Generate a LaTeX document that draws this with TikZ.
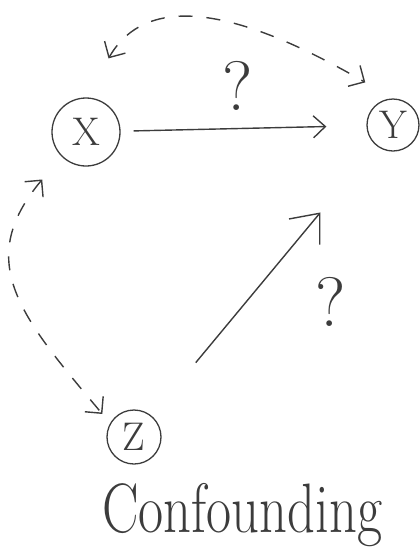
\documentclass[tikz,border=0pt]{standalone}
\usetikzlibrary{arrows.meta,positioning}
\definecolor{pencil}{HTML}{3C3C3C}

\begin{document}
\begin{tikzpicture}[x=1pt, y=1pt,
    var/.style={circle, draw=pencil, line width=1.3pt, inner sep=0pt, text=pencil, font=\fontsize{40}{40}\selectfont},
    arrow/.style={-{Straight Barb[length=12pt, width=22pt]}, draw=pencil, line width=1.4pt},
    dasharrow/.style={{Straight Barb[length=12pt, width=24pt]}-{Straight Barb[length=12pt, width=24pt]}, draw=pencil, line width=1.4pt, dash pattern=on 14pt off 14pt},
    qmark/.style={text=pencil, font=\fontsize{70}{70}\selectfont}
  ]
    \useasboundingbox (0,0) rectangle (420,-558);
    \clip (0,0) rectangle (420,-558);
    \node[var, minimum size=68pt] (x) at (86,-132) {X};
    \node[var, minimum size=52pt] (y) at (393,-125) {Y};
    \node[var, minimum size=54pt] (z) at (134,-437) {Z};
    \node[anchor=base west, inner sep=0pt, text=pencil, font=\fontsize{70}{70}\selectfont] (conf) at (102,-532) {\scalebox{0.78}[1]{Confounding}};
    \draw[arrow, shorten <=13pt, shorten >=40pt] (x) -- node[above=14pt, xshift=-6pt, qmark] {?} (y);
    \draw[arrow, -{Straight Barb[length=24pt, width=40pt]}, shorten <=69pt, shorten >=87pt] (z) -- node[pos=.42, right=66pt, qmark] {?} (y);
    \draw[dasharrow, shorten <=45pt, shorten >=32pt] (x.north) to[out=60, in=150, looseness=1.15] (y.north);
    \draw[dasharrow, shorten <=30pt, shorten >=12pt] (x.225) to[out=230, in=130, looseness=1.3] (z.150);
  \end{tikzpicture}
\end{document}
